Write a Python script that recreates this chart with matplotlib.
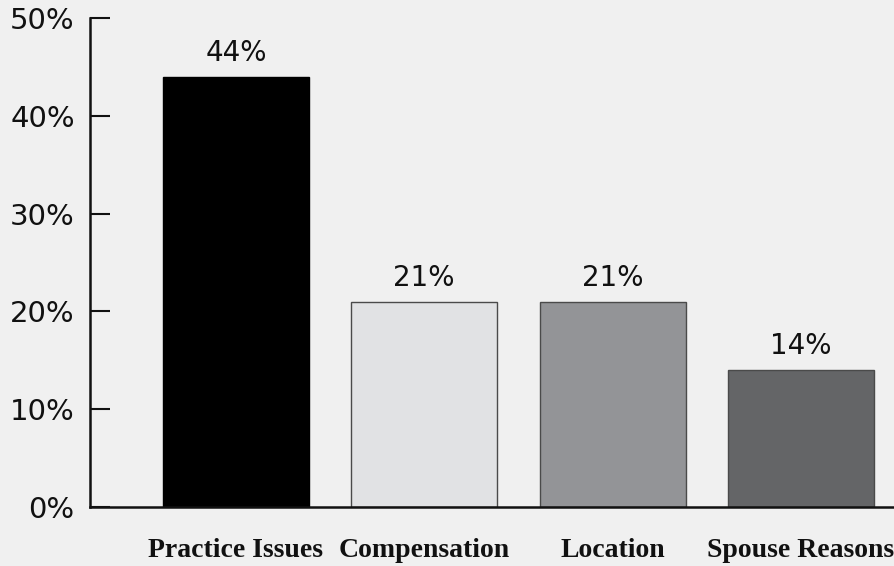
import matplotlib
matplotlib.use("Agg")
import matplotlib.pyplot as plt
import numpy as np

categories = ["Practice Issues", "Compensation", "Location", "Spouse Reasons"]
values = [44, 21, 21, 14]
value_labels = ["44%", "21%", "21%", "14%"]
yticks = [0, 10, 20, 30, 40, 50]
ytick_labels = ["0%", "10%", "20%", "30%", "40%", "50%"]

bar_colors = ["#000000", "#e1e2e4", "#939497", "#646567"]
edge_colors = ["#000000", "#4a4a4a", "#4a4a4a", "#4a4a4a"]
bg = "#f0f0f0"

W, H = 895, 566
fig = plt.figure(figsize=(W / 100, H / 100), dpi=100, facecolor=bg)
ax = fig.add_axes([90 / W, (H - 507) / H, (W - 90) / W, (507 - 18) / H])
ax.set_facecolor(bg)

x = np.arange(len(categories))
ax.bar(x, values, width=0.775, color=bar_colors, edgecolor=edge_colors, linewidth=1.0, zorder=2)

for xi, v, lab in zip(x, values, value_labels):
    ax.annotate(lab, (xi, v), xytext=(0, 7), textcoords="offset points",
                ha="center", va="bottom", fontsize=20, color="#111111",
                family="DejaVu Sans")

ax.set_xlim(-0.775, 3.50)
ax.set_ylim(0, 50)
ax.set_yticks(yticks)
ax.set_yticklabels(ytick_labels, fontsize=21, family="DejaVu Sans", color="#111111")
ax.tick_params(axis="y", direction="in", length=14.4, width=1.5, pad=11, color="#111111")
ax.set_xticks(x)
ax.set_xticklabels(categories, fontsize=20, family="Liberation Serif", fontweight="bold", color="#111111")
ax.tick_params(axis="x", length=0, pad=22)

for s in ["top", "right"]:
    ax.spines[s].set_visible(False)
for s in ["left", "bottom"]:
    ax.spines[s].set_linewidth(1.8)
    ax.spines[s].set_color("#111111")

fig.savefig("out.png", dpi=100, facecolor=bg)
